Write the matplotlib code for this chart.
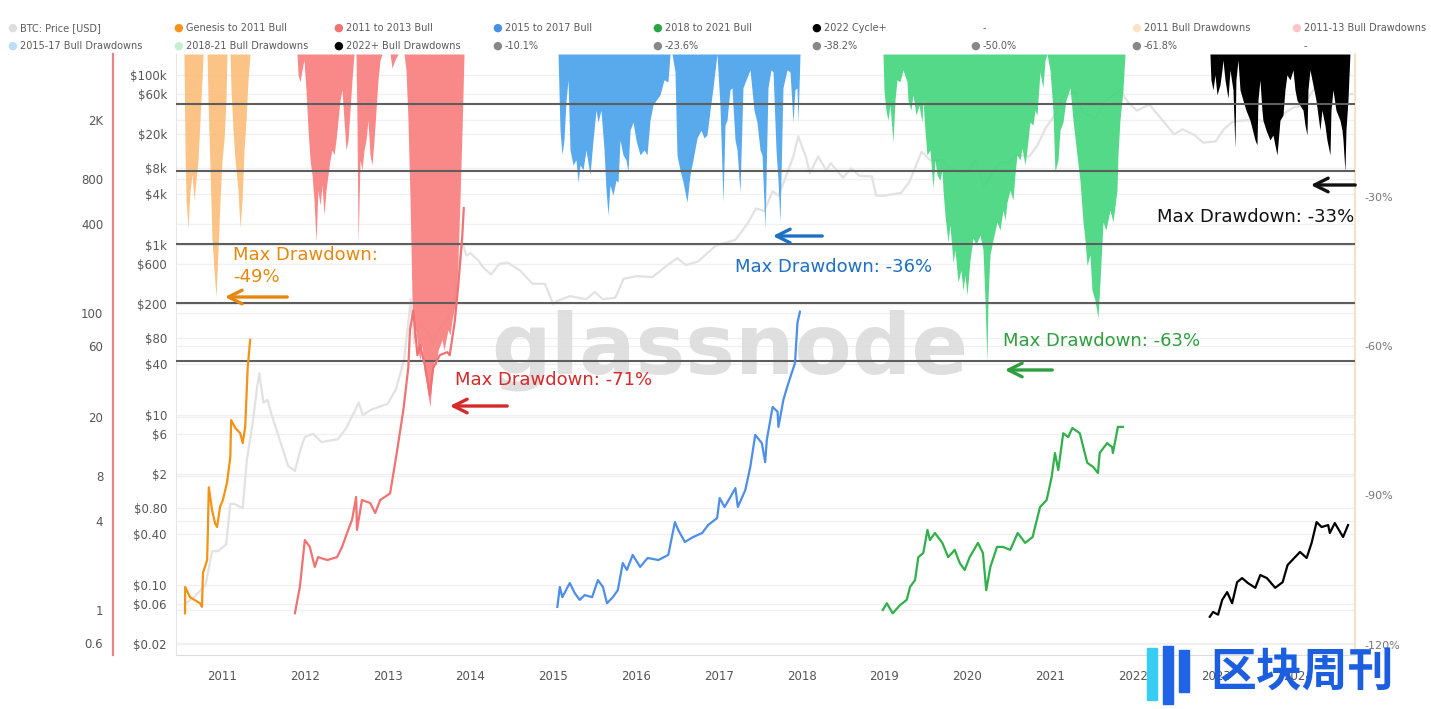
import math
import matplotlib
matplotlib.use('Agg')
import matplotlib.pyplot as plt
from matplotlib.patches import Rectangle, FancyArrowPatch

plt.rcParams['font.family'] = ['DejaVu Sans', 'Noto Sans CJK SC']

# ---- BTC price (USD), decimal years ----
btc_t = [2010.55, 2010.65, 2010.80, 2010.88, 2010.95, 2011.05, 2011.10, 2011.15, 2011.25, 2011.30,
         2011.37, 2011.42, 2011.45, 2011.50, 2011.55, 2011.60, 2011.70, 2011.80, 2011.88, 2011.95,
         2012.00, 2012.10, 2012.20, 2012.30, 2012.40, 2012.50, 2012.60, 2012.65, 2012.70, 2012.80,
         2012.90, 2013.00, 2013.10, 2013.20, 2013.28, 2013.32, 2013.40, 2013.50, 2013.55, 2013.60,
         2013.70, 2013.80, 2013.90, 2013.95, 2014.00, 2014.10, 2014.15, 2014.25, 2014.35, 2014.45,
         2014.60, 2014.75, 2014.90, 2015.00, 2015.05, 2015.20, 2015.40, 2015.50, 2015.60, 2015.75,
         2015.85, 2016.00, 2016.20, 2016.40, 2016.50, 2016.60, 2016.75, 2016.95, 2017.00, 2017.20,
         2017.35, 2017.45, 2017.55, 2017.65, 2017.72, 2017.80, 2017.90, 2017.96, 2018.05, 2018.10,
         2018.20, 2018.30, 2018.35, 2018.50, 2018.60, 2018.70, 2018.85, 2018.90, 2019.00, 2019.20,
         2019.30, 2019.45, 2019.55, 2019.70, 2019.80, 2019.90, 2020.00, 2020.10, 2020.20, 2020.40,
         2020.50, 2020.60, 2020.75, 2020.85, 2020.95, 2021.05, 2021.15, 2021.30, 2021.40, 2021.55,
         2021.65, 2021.85, 2021.95, 2022.05, 2022.20, 2022.35, 2022.50, 2022.60, 2022.75, 2022.85,
         2023.00, 2023.10, 2023.20, 2023.30, 2023.50, 2023.70, 2023.80, 2023.95, 2024.05, 2024.20,
         2024.30, 2024.45, 2024.55, 2024.65]
btc_p = [0.06, 0.07, 0.10, 0.25, 0.25, 0.30, 0.9, 0.9, 0.8, 3.0,
         8, 20, 31, 14, 15, 10, 5, 2.5, 2.2, 4,
         5.5, 6, 4.8, 5, 5.2, 7, 11, 14, 10, 11.5,
         12.5, 13.5, 20, 45, 230, 70, 120, 90, 70, 100,
         125, 200, 1100, 750, 800, 650, 550, 450, 600, 620,
         500, 350, 350, 200, 220, 250, 230, 280, 230, 240,
         400, 430, 420, 600, 700, 580, 640, 960, 1000, 1150,
         1800, 2700, 2500, 4300, 3800, 6000, 11000, 19000, 11000, 7000,
         11000, 7500, 9200, 6200, 8000, 6500, 6400, 3800, 3800, 4100,
         5500, 12500, 10000, 10000, 8000, 7200, 7200, 10200, 5000, 9500,
         9200, 11500, 11000, 15000, 24000, 33000, 55000, 63000, 36000, 31000,
         48000, 66000, 47000, 38000, 45000, 30000, 20000, 23000, 19500, 16000,
         16500, 23000, 28000, 29000, 30000, 26000, 34000, 42000, 43000, 70000,
         63000, 67000, 58000, 60000]

# ---- cycle multiples from cycle low ----
gen_t = [2010.553, 2010.555, 2010.613, 2010.734, 2010.758, 2010.77, 2010.82, 2010.83, 2010.84, 2010.88,
         2010.915, 2010.94, 2010.976, 2011.01, 2011.06, 2011.10, 2011.11, 2011.16, 2011.22, 2011.25,
         2011.28, 2011.31, 2011.34]
gen_m = [0.95, 1.43, 1.22, 1.11, 1.05, 1.78, 2.17, 3.62, 6.7, 4.7,
         3.85, 3.62, 4.94, 5.5, 7.2, 10.7, 19, 16.8, 15.5, 13.3,
         17.1, 43, 66]

b13_t = [2011.88, 2011.94, 2012.00, 2012.06, 2012.12, 2012.16, 2012.27, 2012.39, 2012.45, 2012.51,
         2012.57, 2012.62, 2012.63, 2012.69, 2012.79, 2012.85, 2012.91, 2013.03, 2013.11, 2013.19,
         2013.25, 2013.27, 2013.31, 2013.36, 2013.39, 2013.45, 2013.51, 2013.55, 2013.63, 2013.72,
         2013.75, 2013.81, 2013.85, 2013.90, 2013.92]
b13_m = [0.95, 1.43, 2.96, 2.66, 1.95, 2.27, 2.17, 2.27, 2.66, 3.30,
         4.04, 5.77, 3.46, 5.5, 5.25, 4.5, 5.5, 6.1, 11.4, 22.2,
         43, 77, 104, 52, 61, 44.5, 28, 42.6, 52, 54.5,
         52, 87, 147, 318, 508]

b17_t = [2015.05, 2015.08, 2015.11, 2015.20, 2015.26, 2015.32, 2015.38, 2015.47, 2015.54, 2015.60,
         2015.65, 2015.72, 2015.78, 2015.84, 2015.89, 2015.96, 2016.05, 2016.14, 2016.27, 2016.39,
         2016.47, 2016.51, 2016.59, 2016.69, 2016.80, 2016.87, 2016.98, 2017.01, 2017.07, 2017.14,
         2017.20, 2017.23, 2017.32, 2017.38, 2017.44, 2017.52, 2017.56, 2017.58, 2017.65, 2017.71,
         2017.72, 2017.78, 2017.82, 2017.88, 2017.92, 2017.95, 2017.98]
b17_m = [1.05, 1.43, 1.22, 1.52, 1.30, 1.17, 1.26, 1.22, 1.59, 1.43,
         1.11, 1.22, 1.36, 2.07, 1.86, 2.35, 1.95, 2.24, 2.17, 2.35,
         3.91, 3.46, 2.87, 3.10, 3.30, 3.73, 4.16, 5.67, 4.94, 5.77,
         6.62, 4.94, 6.42, 9.17, 15.1, 13.3, 9.9, 14.0, 23.3, 21.6,
         17.1, 26, 31, 39.4, 46, 86, 102]

b21_t = [2018.98, 2019.03, 2019.10, 2019.19, 2019.27, 2019.31, 2019.37, 2019.41, 2019.47, 2019.52,
         2019.55, 2019.61, 2019.70, 2019.77, 2019.85, 2019.91, 2019.97, 2020.03, 2020.13, 2020.19,
         2020.23, 2020.28, 2020.36, 2020.43, 2020.52, 2020.61, 2020.70, 2020.79, 2020.88, 2020.96,
         2021.02, 2021.06, 2021.10, 2021.16, 2021.22, 2021.27, 2021.36, 2021.39, 2021.45, 2021.52,
         2021.58, 2021.60, 2021.69, 2021.75, 2021.76, 2021.82, 2021.88]
b21_m = [1.0, 1.11, 0.95, 1.08, 1.17, 1.43, 1.59, 2.27, 2.42, 3.46,
         2.96, 3.30, 2.83, 2.27, 2.54, 2.07, 1.86, 2.27, 2.83, 2.42,
         1.36, 1.95, 2.66, 2.66, 2.54, 3.30, 2.83, 3.10, 4.94, 5.5,
         7.86, 11.4, 8.76, 15.5, 14.6, 16.8, 15.5, 13.3, 9.8, 9.2,
         8.36, 11.4, 13.3, 12.5, 11.4, 17.1, 17.1]

c22_t = [2022.93, 2022.97, 2023.03, 2023.08, 2023.14, 2023.20, 2023.26, 2023.32, 2023.39, 2023.48,
         2023.54, 2023.62, 2023.72, 2023.81, 2023.87, 2023.96, 2024.02, 2024.10, 2024.16, 2024.22,
         2024.28, 2024.36, 2024.38, 2024.44, 2024.54, 2024.60]
c22_m = [0.90, 0.97, 0.93, 1.17, 1.32, 1.11, 1.54, 1.64, 1.52, 1.41,
         1.72, 1.64, 1.41, 1.54, 2.01, 2.27, 2.46, 2.24, 2.83, 3.91,
         3.62, 3.73, 3.30, 3.85, 3.10, 3.73]

# ---- drawdowns from ATH (%) ----
dd11_t = [2010.540, 2010.553, 2010.565, 2010.589, 2010.614, 2010.638, 2010.662, 2010.686, 2010.710, 2010.734,
          2010.758, 2010.771, 2010.819, 2010.831, 2010.855, 2010.879, 2010.903, 2010.928, 2010.952, 2010.976,
          2011.000, 2011.024, 2011.048, 2011.060, 2011.097, 2011.109, 2011.133, 2011.157, 2011.193, 2011.217,
          2011.242, 2011.266, 2011.290, 2011.314, 2011.338]
dd11_v = [0, -19.3, -29.4, -35.0, -27.4, -24.3, -29.4, -25.4, -21.3, -13.3,
          -5.2, 0, 0, -9.3, -23.3, -37.4, -43.5, -48.9, -39.4, -29.4,
          -21.3, -17.3, -9.3, 0, 0, -7.2, -15.3, -21.3, -27.4, -35.0,
          -29.4, -19.3, -13.3, -5.2, 0]

dd13_t = [2011.906, 2011.918, 2011.942, 2011.966, 2011.990, 2012.014, 2012.039, 2012.063, 2012.087, 2012.111,
          2012.135, 2012.159, 2012.184, 2012.208, 2012.232, 2012.256, 2012.280, 2012.304, 2012.329, 2012.353,
          2012.377, 2012.401, 2012.425, 2012.449, 2012.473, 2012.498, 2012.522, 2012.546, 2012.570, 2012.594,
          2012.618, 2012.630, 2012.643, 2012.667, 2012.691, 2012.715, 2012.739, 2012.763, 2012.787, 2012.812,
          2012.836, 2012.860, 2012.884, 2012.908, 2012.932, 2013.029, 2013.053, 2013.089, 2013.126, 2013.198,
          2013.222, 2013.246, 2013.271, 2013.295, 2013.319, 2013.343, 2013.367, 2013.391, 2013.415, 2013.440,
          2013.464, 2013.488, 2013.512, 2013.536, 2013.560, 2013.585, 2013.609, 2013.633, 2013.657, 2013.681,
          2013.705, 2013.729, 2013.754, 2013.778, 2013.802, 2013.826, 2013.850, 2013.874, 2013.899, 2013.923]
dd13_v = [0, -4.2, -5.6, -3.2, -1.2, -7.2, -15.3, -21.3, -24.3, -29.4,
          -37.8, -27.4, -30.4, -26.4, -32.4, -27.4, -24.3, -21.3, -19.3, -20.3,
          -17.3, -13.3, -9.3, -7.2, -13.3, -19.3, -17.3, -11.3, -5.2, 0,
          0, -13.3, -38.4, -21.3, -23.3, -19.3, -17.3, -13.3, -20.3, -22.3,
          -17.3, -11.3, -5.2, -1.2, 0, 0, -2.8, -1.2, 0, 0,
          -3.2, -13.3, -29.4, -49.5, -57.5, -55.5, -59.6, -61.6, -58.6, -63.6,
          -65.6, -68.6, -71.0, -65.6, -61.6, -62.6, -59.6, -58.6, -57.5, -59.6,
          -57.5, -55.5, -56.5, -53.5, -51.5, -49.5, -41.4, -29.4, -15.3, 0]

dd17_t = [2015.058, 2015.082, 2015.106, 2015.130, 2015.155, 2015.179, 2015.203, 2015.239, 2015.275, 2015.300,
          2015.324, 2015.360, 2015.396, 2015.444, 2015.481, 2015.517, 2015.541, 2015.577, 2015.614, 2015.638,
          2015.662, 2015.686, 2015.722, 2015.758, 2015.783, 2015.807, 2015.843, 2015.879, 2015.903, 2015.928,
          2015.964, 2016.000, 2016.048, 2016.097, 2016.133, 2016.169, 2016.205, 2016.242, 2016.290, 2016.338,
          2016.386, 2016.411, 2016.435, 2016.471, 2016.495, 2016.531, 2016.568, 2016.616, 2016.652, 2016.688,
          2016.737, 2016.785, 2016.821, 2016.857, 2016.894, 2016.930, 2016.978, 2017.014, 2017.051, 2017.075,
          2017.099, 2017.135, 2017.159, 2017.196, 2017.220, 2017.256, 2017.292, 2017.329, 2017.377, 2017.425,
          2017.461, 2017.498, 2017.522, 2017.558, 2017.594, 2017.630, 2017.655, 2017.691, 2017.715, 2017.739,
          2017.775, 2017.824, 2017.860, 2017.896, 2017.920, 2017.944, 2017.957, 2017.981]
dd17_v = [0, -15.3, -20.3, -17.3, -9.3, -5.2, -19.3, -22.3, -21.3, -25.8,
          -22.3, -23.3, -19.3, -24.3, -17.3, -11.3, -13.7, -11.3, -19.3, -27.4,
          -32.4, -26.4, -28.4, -25.4, -25.8, -17.3, -20.3, -21.3, -23.7, -15.3,
          -13.7, -17.3, -20.3, -19.3, -20.3, -13.3, -10.3, -9.3, -8.2, -5.2,
          -5.6, 0, 0, -3.6, -20.3, -23.3, -25.8, -29.8, -24.3, -21.3,
          -16.9, -15.3, -16.9, -16.3, -11.3, -6.8, 0, -10.3, -29.8, -14.3,
          -13.3, -7.2, -6.8, -17.3, -19.3, -27.8, -6.8, -5.2, -3.2, -11.3,
          -13.7, -19.3, -20.3, -35.0, -6.8, -3.2, -3.6, -19.3, -25.4, -33.8,
          -6.8, -3.2, -3.6, -13.7, -7.2, -6.8, -13.7, 0]

dd21_t = [2018.983, 2018.995, 2019.019, 2019.043, 2019.068, 2019.104, 2019.128, 2019.152, 2019.188, 2019.225,
          2019.273, 2019.285, 2019.321, 2019.345, 2019.382, 2019.418, 2019.454, 2019.466, 2019.490, 2019.514,
          2019.551, 2019.587, 2019.611, 2019.635, 2019.671, 2019.696, 2019.708, 2019.732, 2019.768, 2019.792,
          2019.829, 2019.853, 2019.889, 2019.925, 2019.949, 2019.973, 2019.998, 2020.034, 2020.070, 2020.106,
          2020.155, 2020.191, 2020.215, 2020.239, 2020.251, 2020.275, 2020.312, 2020.360, 2020.396, 2020.432,
          2020.457, 2020.481, 2020.517, 2020.553, 2020.577, 2020.601, 2020.638, 2020.662, 2020.698, 2020.722,
          2020.758, 2020.795, 2020.819, 2020.843, 2020.879, 2020.915, 2020.940, 2020.964, 2021.000, 2021.036,
          2021.060, 2021.097, 2021.121, 2021.157, 2021.193, 2021.242, 2021.278, 2021.326, 2021.362, 2021.399,
          2021.423, 2021.447, 2021.483, 2021.507, 2021.543, 2021.580, 2021.604, 2021.640, 2021.676, 2021.725,
          2021.761, 2021.809, 2021.821, 2021.845, 2021.882, 2021.906]
dd21_v = [0, -7.2, -11.3, -13.3, -10.3, -17.7, -9.3, -5.2, -5.6, -3.2,
          -5.6, -9.3, -11.3, -8.2, -12.3, -10.3, -13.7, -9.3, -15.3, -20.3,
          -19.3, -27.0, -21.3, -24.3, -25.4, -23.3, -27.4, -32.4, -37.8, -34.4,
          -41.9, -39.4, -45.9, -43.5, -47.5, -44.5, -48.5, -41.4, -37.0, -38.4,
          -36.4, -39.4, -49.5, -62.0, -49.5, -40.4, -37.4, -33.8, -35.4, -31.4,
          -33.4, -29.8, -27.4, -29.4, -24.3, -20.3, -21.3, -18.9, -22.3, -19.3,
          -13.7, -14.3, -11.3, -12.3, -3.6, -6.8, -1.2, 0, -3.2, -11.3,
          -23.7, -21.3, -15.3, -13.7, -9.3, -6.8, -13.3, -20.3, -25.4, -33.8,
          -37.4, -42.5, -40.4, -47.5, -49.5, -53.1, -45.9, -33.8, -35.4, -31.4,
          -33.8, -27.4, -20.3, -13.3, -7.2, 0]

dd22_t = [2022.932, 2022.944, 2022.969, 2022.993, 2023.017, 2023.053, 2023.077, 2023.089, 2023.114, 2023.150,
          2023.174, 2023.210, 2023.234, 2023.246, 2023.271, 2023.295, 2023.331, 2023.367, 2023.415, 2023.452,
          2023.476, 2023.500, 2023.512, 2023.536, 2023.560, 2023.572, 2023.609, 2023.657, 2023.693, 2023.717,
          2023.742, 2023.778, 2023.814, 2023.838, 2023.862, 2023.899, 2023.935, 2023.959, 2023.983, 2024.019,
          2024.056, 2024.080, 2024.104, 2024.116, 2024.140, 2024.176, 2024.213, 2024.237, 2024.261, 2024.285,
          2024.321, 2024.345, 2024.382, 2024.394, 2024.418, 2024.454, 2024.478, 2024.502, 2024.527, 2024.539,
          2024.563, 2024.575, 2024.599, 2024.623]
dd22_v = [0, -5.2, -7.2, -4.2, -8.2, -6.2, -3.2, -1.2, -5.2, -8.9,
          -3.2, -7.2, -18.9, -5.2, -1.2, -7.2, -9.3, -11.3, -13.3, -15.7,
          -17.3, -18.3, -9.3, -5.2, -11.3, -13.3, -15.3, -17.3, -16.3, -18.3,
          -20.3, -13.3, -12.3, -7.2, -4.2, -5.2, -3.2, -7.2, -9.3, -10.3,
          -11.3, -14.3, -16.3, -7.2, -3.2, -6.2, -9.3, -12.3, -15.3, -11.3,
          -14.3, -17.3, -20.3, -11.3, -7.2, -11.3, -12.3, -13.3, -15.3, -17.3,
          -23.7, -15.3, -9.3, 0]

fib_levels = [-10.1, -23.6, -38.2, -50.0, -61.8]

years = list(range(2011, 2025))
price_ticks = [100000, 60000, 20000, 8000, 4000, 1000, 600, 200, 80, 40, 10, 6, 2, 0.8, 0.4, 0.1, 0.06, 0.02]
price_labels = ['$100k', '$60k', '$20k', '$8k', '$4k', '$1k', '$600', '$200', '$80', '$40',
                '$10', '$6', '$2', '$0.80', '$0.40', '$0.10', '$0.06', '$0.02']
mult_ticks = [2000, 800, 400, 100, 60, 20, 8, 4, 1, 0.6]
mult_labels = ['2K', '800', '400', '100', '60', '20', '8', '4', '1', '0.6']
dd_ticks = [-30, -60, -90, -120]
dd_labels = ['-30%', '-60%', '-90%', '-120%']

W, H = 1431, 709


def fx(x):
    return x / W


def fy(y):
    return 1 - y / H


fig = plt.figure(figsize=(W / 100, H / 100), dpi=100)
L, R, T, B = 176, 1355, 54, 655
ax = fig.add_axes([L / W, 1 - B / H, (R - L) / W, (B - T) / H])
xlim = (2010.444, 2024.684)

# price axis (bottom layer)
ax.set_xlim(*xlim)
ax.set_yscale('log')
plo, phi = 0.0150, 176600
ax.set_ylim(plo, phi)
ax.yaxis.set_minor_locator(matplotlib.ticker.NullLocator())
ax.set_yticks(price_ticks)
ax.set_yticklabels(price_labels)
ax.tick_params(axis='y', length=0, pad=6.5, labelsize=8.5, labelcolor='#555555')
ax.set_xticks(years)
ax.set_xticklabels([str(y) for y in years])
ax.tick_params(axis='x', length=0, pad=11, labelsize=8.5, labelcolor='#555555')
for v in price_ticks:
    ax.axhline(v, color='#f0f0f0', lw=1, zorder=0)
mlo, mhi = 0.4977, 5546
for v in mult_ticks:
    f = (math.log10(v) - math.log10(mlo)) / (math.log10(mhi) - math.log10(mlo))
    ax.plot([0, 1], [f, f], transform=ax.transAxes, color='#f0f0f0', lw=1, zorder=0)
for s in ['top', 'right']:
    ax.spines[s].set_visible(False)
ax.spines['left'].set_color('#e6e6e6')
ax.spines['bottom'].set_color('#dcdcdc')
ax.text(0.47, 0.507, 'glassnode', transform=ax.transAxes, ha='center', va='center',
        fontsize=60, fontweight='bold', color='#dadada', alpha=0.85, zorder=0)
ax.plot(btc_t, btc_p, color='#e2e2e2', lw=1.6, zorder=1)

# drawdown axis
ax_dd = ax.twinx()
ax_dd.set_xlim(*xlim)
ax_dd.set_ylim(-120.9, 0)
ax_dd.set_yticks(dd_ticks)
ax_dd.set_yticklabels(dd_labels, va='bottom')
ax_dd.tick_params(axis='y', length=0, pad=7, labelsize=8, labelcolor='#777777')
for s in ['top', 'left', 'bottom']:
    ax_dd.spines[s].set_visible(False)
ax_dd.spines['right'].set_color('#f6e2c8')
ax_dd.spines['right'].set_linewidth(1.5)
ax_dd.fill_between(dd11_t, dd11_v, 0, color='#fbbd78', lw=0, alpha=0.9)
ax_dd.fill_between(dd13_t, dd13_v, 0, color='#f97f7f', lw=0, alpha=0.92)
ax_dd.fill_between(dd17_t, dd17_v, 0, color='#4ba3ec', lw=0, alpha=0.92)
ax_dd.fill_between(dd21_t, dd21_v, 0, color='#45d67e', lw=0, alpha=0.92)
ax_dd.fill_between(dd22_t, dd22_v, 0, color='#000000', lw=0)
for v in fib_levels:
    ax_dd.axhline(v, color='#5e5e5e', lw=1.5, zorder=3)

# multiple axis (top layer)
ax_m = ax.twinx()
ax_m.set_xlim(*xlim)
ax_m.set_yscale('log')
ax_m.set_ylim(mlo, mhi)
ax_m.yaxis.set_minor_locator(matplotlib.ticker.NullLocator())
ax_m.yaxis.set_ticks_position('left')
ax_m.yaxis.set_label_position('left')
ax_m.set_yticks(mult_ticks)
ax_m.set_yticklabels(mult_labels)
ax_m.tick_params(axis='y', length=0, pad=7, labelsize=8.5, labelcolor='#555555')
for s in ['top', 'right', 'bottom']:
    ax_m.spines[s].set_visible(False)
ax_m.spines['left'].set_visible(True)
ax_m.spines['left'].set_position(('outward', 45.4))
ax_m.spines['left'].set_color('#e98585')
ax_m.spines['left'].set_linewidth(1.6)
ax_m.plot(gen_t, gen_m, color='#f39214', lw=1.6)
ax_m.plot(b13_t, b13_m, color='#f07272', lw=1.6)
ax_m.plot(b17_t, b17_m, color='#4d8fe8', lw=1.6)
ax_m.plot(b21_t, b21_m, color='#30b04a', lw=1.6)
ax_m.plot(c22_t, c22_m, color='#000000', lw=1.6)

# legend
row1 = [('BTC: Price [USD]', '#dedede'), ('Genesis to 2011 Bull', '#f7931a'), ('2011 to 2013 Bull', '#f07272'),
        ('2015 to 2017 Bull', '#4a8fe6'), ('2018 to 2021 Bull', '#2ca444'), ('2022 Cycle+', '#000000'),
        ('-', None), ('2011 Bull Drawdowns', '#fde2c6'), ('2011-13 Bull Drawdowns', '#fcc6c6')]
row2 = [('2015-17 Bull Drawdowns', '#bcdcf8'), ('2018-21 Bull Drawdowns', '#c6efd6'), ('2022+ Bull Drawdowns', '#000000'),
        ('-10.1%', '#888888'), ('-23.6%', '#888888'), ('-38.2%', '#888888'), ('-50.0%', '#888888'),
        ('-61.8%', '#888888'), ('-', None)]
dot_x = [12, 178, 338, 497, 657, 816, 975, 1136, 1296]
for yrow, row in [(28, row1), (46, row2)]:
    for (lab, col), x in zip(row, dot_x):
        if col is not None:
            fig.text(fx(x), fy(yrow), '\u25cf', color=col, fontsize=8, ha='center', va='center')
        fig.text(fx(x + 8), fy(yrow), lab, color='#5a5a5a', fontsize=7, ha='left', va='center')

# annotations
notes = [
    (233, 255, 'Max Drawdown:', '#e8870e'),
    (233, 277, '-49%', '#e8870e'),
    (455, 380, 'Max Drawdown: -71%', '#d42a2a'),
    (735, 267, 'Max Drawdown: -36%', '#1f6fc2'),
    (1003, 341, 'Max Drawdown: -63%', '#2e9e40'),
    (1157, 217, 'Max Drawdown: -33%', '#111111'),
]
for x, y, s, c in notes:
    fig.text(fx(x), fy(y), s, color=c, fontsize=13, ha='left', va='center')
arrows = [(290, 222, 297, '#e8870e'), (510, 447, 406, '#d42a2a'), (825, 770, 236, '#1f6fc2'),
          (1055, 1002, 370, '#2e9e40'), (1358, 1308, 185, '#111111')]
for x0, x1, y, c in arrows:
    fig.add_artist(FancyArrowPatch((fx(x0), fy(y)), (fx(x1), fy(y)), transform=fig.transFigure,
                                   arrowstyle='->,head_width=0.35,head_length=0.7', mutation_scale=14,
                                   lw=2.4, color=c))

# logo
for x0, y0, w, h, c in [(1147, 648, 10, 52, '#38cdf3'), (1163, 646, 10, 58, '#1f63e6'), (1179, 650, 10, 42, '#1f63e6')]:
    fig.add_artist(Rectangle((fx(x0), fy(y0 + h)), w / W, h / H, transform=fig.transFigure, color=c))
fig.text(fx(1210), fy(673), '区块周刊', family=['Noto Sans CJK SC'], fontsize=33, fontweight='bold',
         color='#1b5fe0', ha='left', va='center')

fig.savefig('out.png', dpi=100)
